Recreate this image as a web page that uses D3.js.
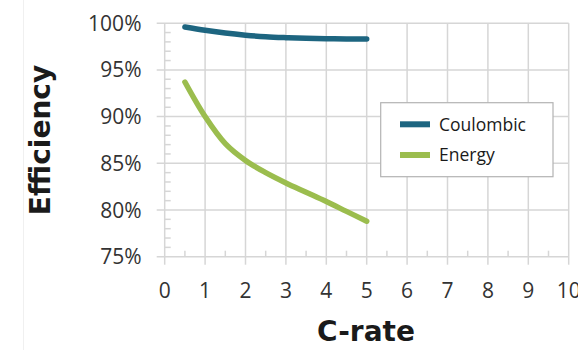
<!DOCTYPE html>
<html><head><meta charset="utf-8">
<script src="https://cdn.jsdelivr.net/npm/d3@7/dist/d3.min.js"></script>
<style>body{margin:0;background:#fff}svg{display:block}</style>
</head><body><svg id="c" width="578" height="350"></svg>
<script>
const cRate = [0.5, 1, 1.5, 2, 2.5, 3, 3.5, 4, 4.5, 5];
const coulombic = [99.6, 99.25, 98.95, 98.72, 98.55, 98.45, 98.38, 98.34, 98.31, 98.3];
const energy = [93.7, 90.0, 87.1, 85.3, 84.0, 82.9, 81.9, 80.9, 79.85, 78.8];
const seriesNames = ["Coulombic", "Energy"];
const seriesColors = ["#1d6580", "#9bbd4e"];
const xTicks = [0,1,2,3,4,5,6,7,8,9,10];
const yTicks = [75,80,85,90,95,100];

const svg = d3.select("#c");
const x = d3.scaleLinear().domain([0,10]).range([164.7,568.7]);
const y = d3.scaleLinear().domain([75,100]).range([256.7,23.2]);

// faint left border
svg.append("line").attr("x1",23.5).attr("x2",23.5).attr("y1",0).attr("y2",350)
  .attr("stroke","#f0f0f0").attr("stroke-width",1);

const grid = svg.append("g");
grid.selectAll(".vg").data(xTicks).join("line")
  .attr("x1",d=>x(d)).attr("x2",d=>x(d)).attr("y1",y(100)).attr("y2",y(75)+8)
  .attr("stroke","#d6d6d6").attr("stroke-width",1.5);
grid.selectAll(".hg").data(yTicks).join("line")
  .attr("x1",x(0)-8).attr("x2",x(10)).attr("y1",d=>y(d)).attr("y2",d=>y(d))
  .attr("stroke","#d6d6d6").attr("stroke-width",1.5);
const yMinor = d3.range(75,100,1).filter(v=>v%5!==0);
grid.selectAll(".ym").data(yMinor).join("line")
  .attr("x1",x(0)).attr("x2",x(0)+6).attr("y1",d=>y(d)).attr("y2",d=>y(d))
  .attr("stroke","#d6d6d6").attr("stroke-width",1.5);
const xMinor = d3.range(0.5,10,1);
grid.selectAll(".xm").data(xMinor).join("line")
  .attr("x1",d=>x(d)).attr("x2",d=>x(d)).attr("y1",y(75)).attr("y2",y(75)-6)
  .attr("stroke","#d6d6d6").attr("stroke-width",1.5);

svg.append("g").selectAll("text").data(yTicks).join("text")
  .attr("x",141.5).attr("y",d=>y(d)).attr("dy","0.36em").attr("text-anchor","end")
  .attr("font-family","Open Sans").attr("font-size",21).attr("fill","#333")
  .text(d=>d+"%");
svg.append("g").selectAll("text").data(xTicks).join("text")
  .attr("x",d=>x(d)).attr("y",298).attr("text-anchor","middle")
  .attr("font-family","Open Sans").attr("font-size",21).attr("fill","#333")
  .text(d=>d);

svg.append("text").attr("x",366).attr("y",341).attr("text-anchor","middle")
  .attr("font-family","DejaVu Sans").attr("font-weight","bold").attr("font-size",28)
  .attr("fill","#1a1a1a").text("C-rate");
svg.append("text").attr("transform","translate(50,140) rotate(-90)").attr("text-anchor","middle")
  .attr("font-family","DejaVu Sans").attr("font-weight","bold").attr("font-size",28)
  .attr("fill","#1a1a1a").text("Efficiency");

const line = d3.line().x((d,i)=>x(cRate[i])).y(d=>y(d)).curve(d3.curveCatmullRom.alpha(0.5));
[coulombic, energy].forEach((s,k)=>{
  svg.append("path").attr("d",line(s)).attr("fill","none")
    .attr("stroke",seriesColors[k]).attr("stroke-width",5.5).attr("stroke-linecap","round");
});

const lg = svg.append("g");
lg.append("rect").attr("x",380.7).attr("y",102.7).attr("width",172.3).attr("height",74)
  .attr("fill","#fff").attr("stroke","#b3b3b3").attr("stroke-width",1.2);
seriesNames.forEach((n,k)=>{
  const cy = 124.3 + k*30.7;
  lg.append("line").attr("x1",400).attr("x2",430).attr("y1",cy).attr("y2",cy)
    .attr("stroke",seriesColors[k]).attr("stroke-width",6);
  lg.append("text").attr("x",439).attr("y",cy).attr("dy","0.36em")
    .attr("font-family","Open Sans").attr("font-size",17.5).attr("fill","#1a1a1a").text(n);
});
</script></body></html>
